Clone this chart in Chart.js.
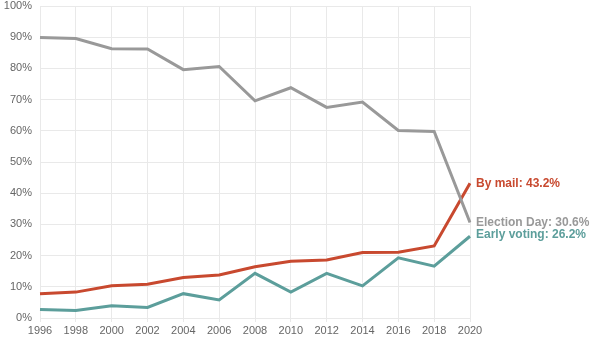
<!DOCTYPE html>
<html>
<head>
<meta charset="utf-8">
<script src="https://cdn.jsdelivr.net/npm/chart.js@4"></script>
<style>
  html, body { margin: 0; padding: 0; background: #fff; }
  #wrap { width: 600px; height: 343px; }
</style>
</head>
<body>
<div id="wrap"><canvas id="votingChart" width="600" height="343"></canvas></div>
<script>
const years = ["1996", "1998", "2000", "2002", "2004", "2006", "2008", "2010", "2012", "2014", "2016", "2018", "2020"];
const electionDay = [89.9, 89.6, 86.3, 86.2, 79.6, 80.6, 69.6, 73.8, 67.5, 69.2, 60.1, 59.8, 30.6];
const byMail = [7.8, 8.3, 10.3, 10.8, 13.0, 13.8, 16.4, 18.2, 18.6, 21.0, 21.1, 23.1, 43.2];
const earlyVoting = [2.7, 2.4, 3.9, 3.4, 7.8, 5.8, 14.3, 8.3, 14.3, 10.3, 19.3, 16.6, 26.2];
const seriesNames = ["Election Day", "By mail", "Early voting"];
const seriesColors = ["#999999", "#c8492f", "#5c9e9b"];

// end-of-line labels, drawn at the last point of each series
const endLabels = {
  id: "endLabels",
  afterDatasetsDraw(chart) {
    const ctx = chart.ctx;
    ctx.save();
    ctx.font = "bold 12px 'Liberation Sans', Arial, sans-serif";
    ctx.textBaseline = "middle";
    chart.data.datasets.forEach((ds, i) => {
      const meta = chart.getDatasetMeta(i);
      const pt = meta.data[meta.data.length - 1];
      const v = ds.data[ds.data.length - 1];
      let y = pt.y;
      if (ds.label === "Early voting") y -= 2;
      ctx.fillStyle = ds.borderColor;
      ctx.fillText(ds.label + ": " + v.toFixed(1) + "%", pt.x + 6, y);
    });
    ctx.restore();
  }
};

const ctx = document.getElementById("votingChart").getContext("2d");
new Chart(ctx, {
  type: "line",
  data: {
    labels: years,
    datasets: [
      { label: seriesNames[0], data: electionDay, borderColor: seriesColors[0] },
      { label: seriesNames[1], data: byMail, borderColor: seriesColors[1] },
      { label: seriesNames[2], data: earlyVoting, borderColor: seriesColors[2] }
    ]
  },
  options: {
    responsive: false,
    animation: false,
    layout: { padding: { top: 6, right: 130, left: 0, bottom: 0 } },
    elements: {
      line: { borderWidth: 3, tension: 0, fill: false },
      point: { radius: 0 }
    },
    plugins: {
      legend: { display: false },
      tooltip: { enabled: false }
    },
    scales: {
      x: {
        grid: { color: "#e9e9e9", tickLength: 4 },
        border: { color: "#e9e9e9" },
        ticks: {
          color: "#666",
          font: { family: "'Liberation Sans', Arial, sans-serif", size: 11 },
          maxRotation: 0,
          autoSkip: false,
          padding: 2
        },
        afterFit(scale) { scale.height = 25; }
      },
      y: {
        min: 0,
        max: 100,
        grid: { color: "#e9e9e9", drawTicks: false },
        border: { color: "#e9e9e9" },
        ticks: {
          stepSize: 10,
          color: "#666",
          font: { family: "'Liberation Sans', Arial, sans-serif", size: 11 },
          padding: 8,
          callback: (v) => v + "%"
        },
        afterFit(scale) {
          scale.width = 40;
          scale.paddingTop = 0;
          scale.paddingBottom = 0;
        }
      }
    }
  },
  plugins: [endLabels]
});
</script>
</body>
</html>
